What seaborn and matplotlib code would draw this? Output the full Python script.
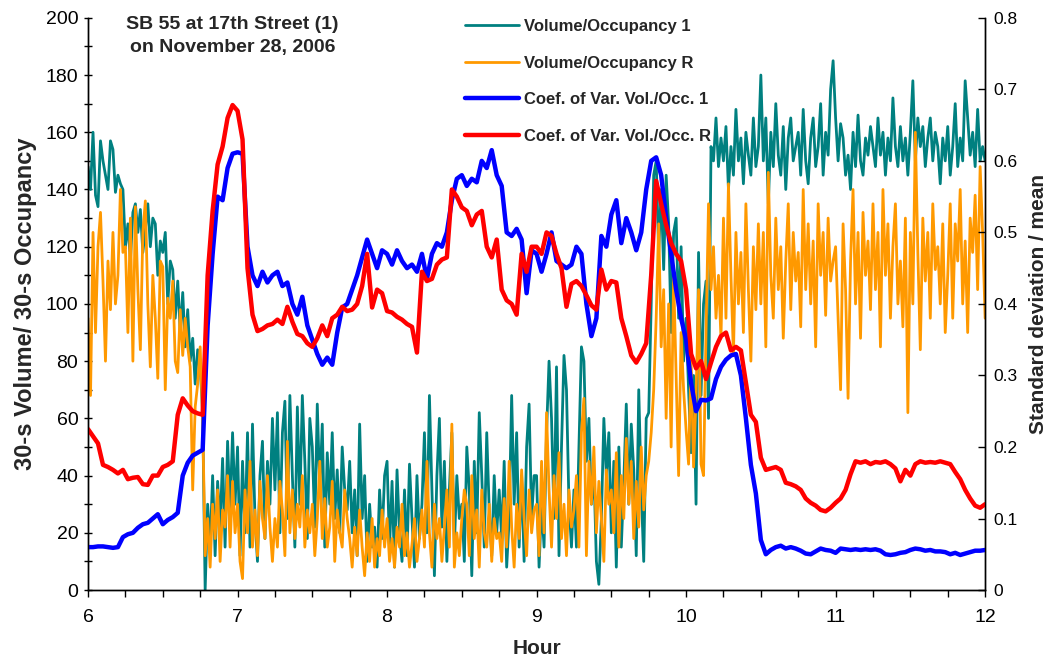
import numpy as np
import pandas as pd
import matplotlib
matplotlib.use("Agg")
import matplotlib.pyplot as plt
from matplotlib.ticker import MultipleLocator, FuncFormatter
from matplotlib.lines import Line2D
import seaborn as sns

# Volume/occupancy ratio, detector 1 (1-minute samples, 6:00 to 12:00)
vol_occ_1 = [
    148, 140, 160, 138, 134, 157, 150, 145, 140, 157, 154, 139, 145, 142, 140,
    120, 128, 115, 132, 135, 125, 133, 118, 126, 135, 120, 130, 128, 110, 122,
    118, 125, 100, 115, 112, 95, 108, 90, 104, 85, 98, 80, 88, 72, 84,
    78, 62, 0, 30, 15, 40, 12, 38, 22, 46, 15, 52, 28, 55, 30,
    50, 12, 45, 20, 55, 15, 58, 25, 10, 40, 52, 18, 45, 30, 60,
    35, 62, 20, 55, 66, 25, 68, 40, 15, 64, 30, 68, 45, 18, 60,
    50, 22, 65, 35, 58, 15, 48, 30, 55, 25, 42, 20, 50, 35, 28,
    45, 20, 35, 12, 58, 25, 40, 10, 30, 15, 22, 8, 35, 18, 40,
    45, 15, 38, 8, 42, 20, 10, 35, 12, 44, 25, 8, 40, 18, 30,
    55, 20, 68, 35, 5, 40, 60, 22, 45, 10, 35, 55, 15, 40, 25,
    30, 10, 50, 35, 5, 45, 20, 62, 40, 15, 55, 28, 12, 40, 20,
    35, 18, 45, 8, 25, 68, 30, 55, 15, 40, 10, 50, 65, 25, 40,
    40, 8, 30, 15, 55, 80, 60, 25, 78, 12, 50, 82, 70, 30, 15,
    35, 15, 50, 85, 80, 45, 60, 30, 42, 10, 2, 25, 60, 40, 55,
    20, 45, 8, 50, 15, 38, 65, 30, 58, 42, 12, 70, 35, 10, 60,
    62, 100, 145, 150, 118, 140, 112, 145, 128, 90, 125, 130, 95, 120, 80,
    95, 70, 48, 75, 30, 118, 68, 100, 108, 60, 155, 150, 165, 148, 158,
    150, 162, 140, 155, 145, 168, 150, 158, 142, 160, 152, 145, 165, 148, 155,
    180, 150, 165, 135, 160, 148, 170, 152, 145, 162, 140, 158, 165, 150, 155,
    160, 145, 168, 150, 142, 158, 165, 148, 155, 170, 145, 160, 152, 175, 185,
    165, 150, 163, 158, 145, 152, 140, 160, 148, 166, 150, 145, 158, 152, 162,
    155, 148, 165, 152, 160, 145, 158, 150, 172, 155, 148, 162, 150, 158, 145,
    160, 178, 150, 165, 155, 162, 148, 158, 165, 150, 160, 155, 142, 158, 150,
    162, 145, 155, 170, 148, 158, 150, 178, 165, 152, 160, 148, 168, 150, 155,
    150,
]

# Volume/occupancy ratio, detector R (1-minute samples)
vol_occ_r = [
    95, 68, 125, 90, 120, 132, 108, 80, 115, 98, 125, 100, 110, 140, 118,
    120, 90, 130, 80, 134, 105, 84, 125, 136, 100, 78, 110, 95, 74, 115,
    113, 70, 102, 95, 108, 80, 76, 98, 82, 95, 85, 78, 35, 64, 72,
    85, 60, 12, 25, 8, 30, 18, 35, 10, 28, 22, 40, 15, 38, 20,
    30, 10, 4, 35, 20, 45, 15, 28, 12, 38, 25, 18, 40, 22, 10,
    25, 15, 38, 28, 12, 52, 20, 35, 18, 30, 22, 40, 15, 28, 20,
    30, 12, 25, 45, 18, 32, 15, 22, 38, 10, 28, 20, 15, 35, 25,
    18, 8, 22, 12, 28, 15, 5, 20, 10, 25, 8, 18, 12, 28, 15,
    25, 10, 18, 8, 22, 15, 30, 12, 20, 8, 16, 25, 10, 18, 28,
    15, 45, 20, 8, 30, 18, 25, 10, 22, 35, 15, 58, 8, 20, 12,
    25, 35, 30, 12, 40, 18, 28, 8, 35, 20, 15, 30, 10, 25, 18,
    20, 10, 32, 15, 45, 22, 8, 30, 18, 42, 25, 12, 35, 20, 28,
    30, 12, 45, 20, 62, 35, 15, 40, 25, 48, 18, 30, 12, 35, 22,
    28, 40, 15, 55, 67, 12, 45, 30, 50, 20, 38, 25, 10, 42, 30,
    35, 20, 48, 15, 40, 25, 53, 30, 45, 18, 38, 22, 50, 28, 40,
    45, 55, 70, 95, 128, 85, 105, 60, 100, 50, 110, 75, 40, 90, 70,
    56, 44, 81, 43, 68, 105, 44, 40, 90, 135, 105, 120, 95, 110, 88,
    130, 95, 142, 110, 82, 125, 100, 118, 90, 135, 105, 80, 120, 98, 128,
    100, 125, 85, 146, 110, 95, 130, 105, 120, 88, 115, 135, 98, 125, 108,
    118, 92, 140, 105, 128, 100, 122, 85, 135, 110, 125, 96, 130, 108, 115,
    120, 95, 70, 128, 105, 67, 115, 140, 100, 125, 88, 132, 110, 122, 98,
    135, 105, 125, 85, 140, 110, 128, 95, 120, 135, 100, 115, 92, 130, 62,
    125, 100, 160, 118, 84, 130, 108, 125, 95, 135, 112, 120, 100, 128, 90,
    110, 135, 95, 128, 115, 140, 100, 122, 90, 130, 118, 138, 105, 148, 125,
    95,
]

# Coefficient of variation of volume/occupancy, detector 1 (2-minute samples)
cv_1 = [
    0.060, 0.060, 0.061, 0.061, 0.060, 0.059, 0.060, 0.074, 0.078, 0.080,
    0.087, 0.092, 0.094, 0.100, 0.106, 0.092, 0.098, 0.102, 0.108, 0.160,
    0.178, 0.188, 0.192, 0.196, 0.370, 0.470, 0.550, 0.545, 0.590, 0.610,
    0.612, 0.610, 0.480, 0.440, 0.425, 0.445, 0.430, 0.440, 0.445, 0.425,
    0.430, 0.400, 0.385, 0.410, 0.370, 0.350, 0.330, 0.315, 0.325, 0.315,
    0.360, 0.395, 0.400, 0.420, 0.440, 0.465, 0.490, 0.470, 0.450, 0.475,
    0.470, 0.455, 0.475, 0.460, 0.450, 0.455, 0.445, 0.470, 0.435, 0.470,
    0.485, 0.480, 0.500, 0.545, 0.575, 0.580, 0.565, 0.575, 0.570, 0.600,
    0.590, 0.615, 0.580, 0.565, 0.500, 0.495, 0.505, 0.490, 0.415, 0.475,
    0.470, 0.445, 0.470, 0.500, 0.460, 0.455, 0.450, 0.455, 0.480, 0.470,
    0.400, 0.355, 0.380, 0.495, 0.480, 0.525, 0.545, 0.485, 0.520, 0.500,
    0.475, 0.500, 0.560, 0.600, 0.605, 0.580, 0.520, 0.470, 0.420, 0.380,
    0.350, 0.290, 0.250, 0.266, 0.265, 0.268, 0.295, 0.312, 0.322, 0.328,
    0.330, 0.300, 0.240, 0.175, 0.135, 0.070, 0.050, 0.056, 0.060, 0.062,
    0.058, 0.060, 0.058, 0.055, 0.051, 0.050, 0.054, 0.058, 0.056, 0.055,
    0.052, 0.058, 0.057, 0.056, 0.057, 0.056, 0.057, 0.056, 0.057, 0.055,
    0.050, 0.049, 0.050, 0.052, 0.053, 0.056, 0.058, 0.057, 0.055, 0.056,
    0.054, 0.054, 0.053, 0.050, 0.052, 0.049, 0.051, 0.053, 0.055, 0.055,
    0.056,
]

# Coefficient of variation of volume/occupancy, detector R (2-minute samples)
cv_r = [
    0.225, 0.215, 0.205, 0.175, 0.172, 0.168, 0.163, 0.168, 0.155, 0.157,
    0.158, 0.148, 0.147, 0.160, 0.160, 0.172, 0.175, 0.180, 0.245, 0.268,
    0.258, 0.250, 0.247, 0.245, 0.440, 0.530, 0.595, 0.620, 0.660, 0.678,
    0.670, 0.630, 0.450, 0.385, 0.362, 0.365, 0.370, 0.372, 0.378, 0.372,
    0.396, 0.375, 0.358, 0.355, 0.345, 0.340, 0.352, 0.370, 0.355, 0.380,
    0.385, 0.396, 0.390, 0.392, 0.400, 0.425, 0.470, 0.395, 0.420, 0.415,
    0.390, 0.388, 0.382, 0.378, 0.372, 0.368, 0.332, 0.445, 0.432, 0.435,
    0.455, 0.462, 0.465, 0.560, 0.550, 0.535, 0.530, 0.510, 0.525, 0.530,
    0.480, 0.465, 0.490, 0.420, 0.405, 0.400, 0.385, 0.470, 0.445, 0.480,
    0.480, 0.470, 0.500, 0.495, 0.470, 0.450, 0.396, 0.428, 0.432, 0.425,
    0.412, 0.398, 0.392, 0.448, 0.420, 0.432, 0.430, 0.380, 0.355, 0.328,
    0.318, 0.330, 0.345, 0.440, 0.572, 0.540, 0.510, 0.485, 0.470, 0.460,
    0.420, 0.330, 0.310, 0.320, 0.295, 0.318, 0.340, 0.355, 0.360, 0.335,
    0.340, 0.335, 0.290, 0.245, 0.235, 0.185, 0.168, 0.170, 0.172, 0.168,
    0.150, 0.148, 0.145, 0.140, 0.128, 0.122, 0.118, 0.112, 0.110, 0.115,
    0.122, 0.128, 0.140, 0.162, 0.180, 0.178, 0.180, 0.176, 0.179, 0.178,
    0.180, 0.176, 0.170, 0.152, 0.168, 0.160, 0.176, 0.180, 0.178, 0.179,
    0.178, 0.180, 0.178, 0.176, 0.165, 0.155, 0.140, 0.128, 0.118, 0.115,
    0.120,
]

hour_start, hour_end = 6, 12
hours_fine = np.linspace(hour_start, hour_end, len(vol_occ_1))
hours_coarse = np.linspace(hour_start, hour_end, len(cv_1))

ratio_df = pd.DataFrame({"Hour": hours_fine, "vo1": vol_occ_1, "vor": vol_occ_r})
cv_df = pd.DataFrame({"Hour": hours_coarse, "cv1": cv_1, "cvr": cv_r})

labels = ["Volume/Occupancy 1", "Volume/Occupancy R",
          "Coef. of Var. Vol./Occ. 1", "Coef. of Var. Vol./Occ. R"]
colors = ["#008080", "#FF9900", "#0000FF", "#FF0000"]
widths = [2.0, 2.0, 3.2, 3.2]

sns.set_style("white")
plt.rcParams["font.family"] = ["Liberation Sans", "DejaVu Sans"]

fig = plt.figure(figsize=(10.48, 6.60), dpi=100)
ax = fig.add_axes([0.084, 0.106, 0.856, 0.867])
ax2 = ax.twinx()

sns.lineplot(data=ratio_df, x="Hour", y="vo1", ax=ax, color=colors[0],
             linewidth=widths[0], legend=False)
sns.lineplot(data=ratio_df, x="Hour", y="vor", ax=ax, color=colors[1],
             linewidth=widths[1], legend=False)
sns.lineplot(data=cv_df, x="Hour", y="cv1", ax=ax2, color=colors[2],
             linewidth=widths[2], legend=False)
sns.lineplot(data=cv_df, x="Hour", y="cvr", ax=ax2, color=colors[3],
             linewidth=widths[3], legend=False)

ax.set_xlim(hour_start, hour_end)
ax.set_ylim(0, 200)
ax2.set_ylim(0, 0.8)

ax.xaxis.set_major_locator(MultipleLocator(1))
ax.xaxis.set_minor_locator(MultipleLocator(0.25))
ax.yaxis.set_major_locator(MultipleLocator(20))
ax.yaxis.set_minor_locator(MultipleLocator(10))
ax2.yaxis.set_major_locator(MultipleLocator(0.1))
ax2.yaxis.set_major_formatter(FuncFormatter(lambda v, p: "0" if abs(v) < 1e-9 else f"{v:.1f}"))

ax.tick_params(axis="x", which="both", direction="out", length=5, width=1,
               colors="black", labelsize=14, pad=9, bottom=True)
ax.tick_params(axis="y", which="both", direction="inout", length=6, width=1,
               colors="black", labelsize=14, left=True, pad=4)
ax2.tick_params(axis="y", which="major", direction="in", length=5, width=1,
                colors="black", labelsize=12.5, right=True, pad=6)

for a in (ax, ax2):
    a.spines["top"].set_visible(False)
    for s in ("left", "bottom", "right"):
        a.spines[s].set_color("black")
        a.spines[s].set_linewidth(1.0)
    a.grid(False)

ax.set_xlabel("Hour", fontsize=15, fontweight="bold", labelpad=9)
ax.set_ylabel("30-s Volume/ 30-s Occupancy", fontsize=17, fontweight="bold", labelpad=6)
ax2.set_ylabel("Standard deviation / mean", fontsize=15, fontweight="bold", labelpad=8)

fig.text(0.222, 0.976, "SB 55 at 17th Street (1)\non November 28, 2006",
         ha="center", va="top", fontsize=14, fontweight="bold", linespacing=1.5)

handles = [Line2D([0], [0], color=c, lw=w) for c, w in zip(colors, widths)]
leg = fig.legend(handles, labels, loc="upper left", bbox_to_anchor=(0.436, 0.984),
                 frameon=False, handlelength=3.2, handletextpad=0.3,
                 labelspacing=1.3, borderpad=0, prop={"weight": "bold", "size": 12})

fig.savefig("out.png", dpi=100)
